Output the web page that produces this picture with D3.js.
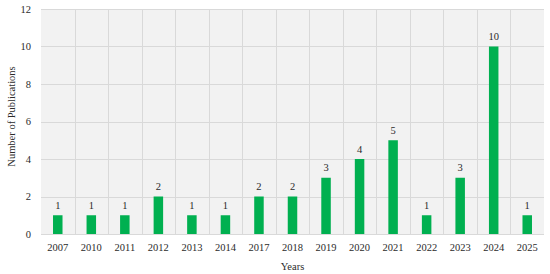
<!DOCTYPE html>
<html>
<head>
<meta charset="utf-8">
<script src="https://cdn.jsdelivr.net/npm/d3@7"></script>
<style>
  body { margin: 0; background: #fff; }
  text { font-family: "Liberation Serif", serif; fill: #2b2b2b; }
</style>
</head>
<body>
<script>
// chart data
var years = ["2007", "2010", "2011", "2012", "2013", "2014", "2017", "2018", "2019", "2020", "2021", "2022", "2023", "2024", "2025"];
var counts = [1, 1, 1, 2, 1, 1, 2, 2, 3, 4, 5, 1, 3, 10, 1];
var yTicks = [0, 2, 4, 6, 8, 10, 12];

var w = 550, h = 274;
// plot area edges (note: "top" is a reserved window global, so use other names)
var plotL = 41, plotR = 544, plotT = 9, plotB = 234;
var barColor = "#00b050";
var textColor = "#2b2b2b";

var svg = d3.select("body").append("svg")
    .attr("width", w)
    .attr("height", h);

var xScale = d3.scaleBand()
    .domain(years)
    .range([plotL, plotR]);
var yScale = d3.scaleLinear()
    .domain([0, 12])
    .range([plotB, plotT]);

// plot background
svg.append("rect")
    .attr("x", plotL).attr("y", plotT)
    .attr("width", plotR - plotL).attr("height", plotB - plotT)
    .attr("fill", "#f2f2f2");

// horizontal grid
svg.append("g").selectAll("line")
    .data(yTicks)
    .enter().append("line")
    .attr("x1", plotL).attr("x2", plotR)
    .attr("y1", function (d) { return Math.round(yScale(d)) + 0.5; })
    .attr("y2", function (d) { return Math.round(yScale(d)) + 0.5; })
    .attr("stroke", "#d9d9d9")
    .attr("stroke-width", 1);

// vertical grid at category boundaries
svg.append("g").selectAll("line")
    .data(years.slice(1))
    .enter().append("line")
    .attr("x1", function (d) { return Math.round(xScale(d)) + 0.5; })
    .attr("x2", function (d) { return Math.round(xScale(d)) + 0.5; })
    .attr("y1", plotT).attr("y2", plotB)
    .attr("stroke", "#d9d9d9")
    .attr("stroke-width", 1);

// bars
var barW = 9.5;
svg.append("g").selectAll("rect")
    .data(counts)
    .enter().append("rect")
    .attr("x", function (d, i) { return xScale(years[i]) + xScale.bandwidth() / 2 - barW / 2; })
    .attr("y", function (d) { return yScale(d); })
    .attr("width", barW)
    .attr("height", function (d) { return yScale(0) - yScale(d); })
    .attr("fill", barColor);

// value labels
svg.append("g").selectAll("text")
    .data(counts)
    .enter().append("text")
    .attr("x", function (d, i) { return xScale(years[i]) + xScale.bandwidth() / 2; })
    .attr("y", function (d) { return yScale(d) - 6.5; })
    .attr("text-anchor", "middle")
    .attr("font-size", "10.5px")
    .text(function (d) { return d; });

// x axis labels
var xAxis = d3.axisBottom(xScale).tickSize(0).tickPadding(10);
var gx = svg.append("g")
    .attr("transform", "translate(0," + plotB + ")")
    .call(xAxis);
gx.select(".domain").remove();
gx.selectAll("text").attr("font-size", "10.5px").attr("font-family", "Liberation Serif, serif").attr("fill", textColor);

// y axis labels
var yAxis = d3.axisLeft(yScale).tickValues(yTicks).tickSize(0).tickPadding(10);
var gy = svg.append("g")
    .attr("transform", "translate(" + plotL + ",0)")
    .call(yAxis);
gy.select(".domain").remove();
gy.selectAll("text").attr("font-size", "10.5px").attr("font-family", "Liberation Serif, serif").attr("fill", textColor);

// axis titles
svg.append("text")
    .attr("x", (plotL + plotR) / 2)
    .attr("y", 270)
    .attr("text-anchor", "middle")
    .attr("font-size", "10.5px")
    .text("Years");
svg.append("text")
    .attr("transform", "translate(15," + ((plotT + plotB) / 2 - 5) + ") rotate(-90)")
    .attr("text-anchor", "middle")
    .attr("font-size", "10.5px")
    .text("Number of Publications");
</script>
</body>
</html>
